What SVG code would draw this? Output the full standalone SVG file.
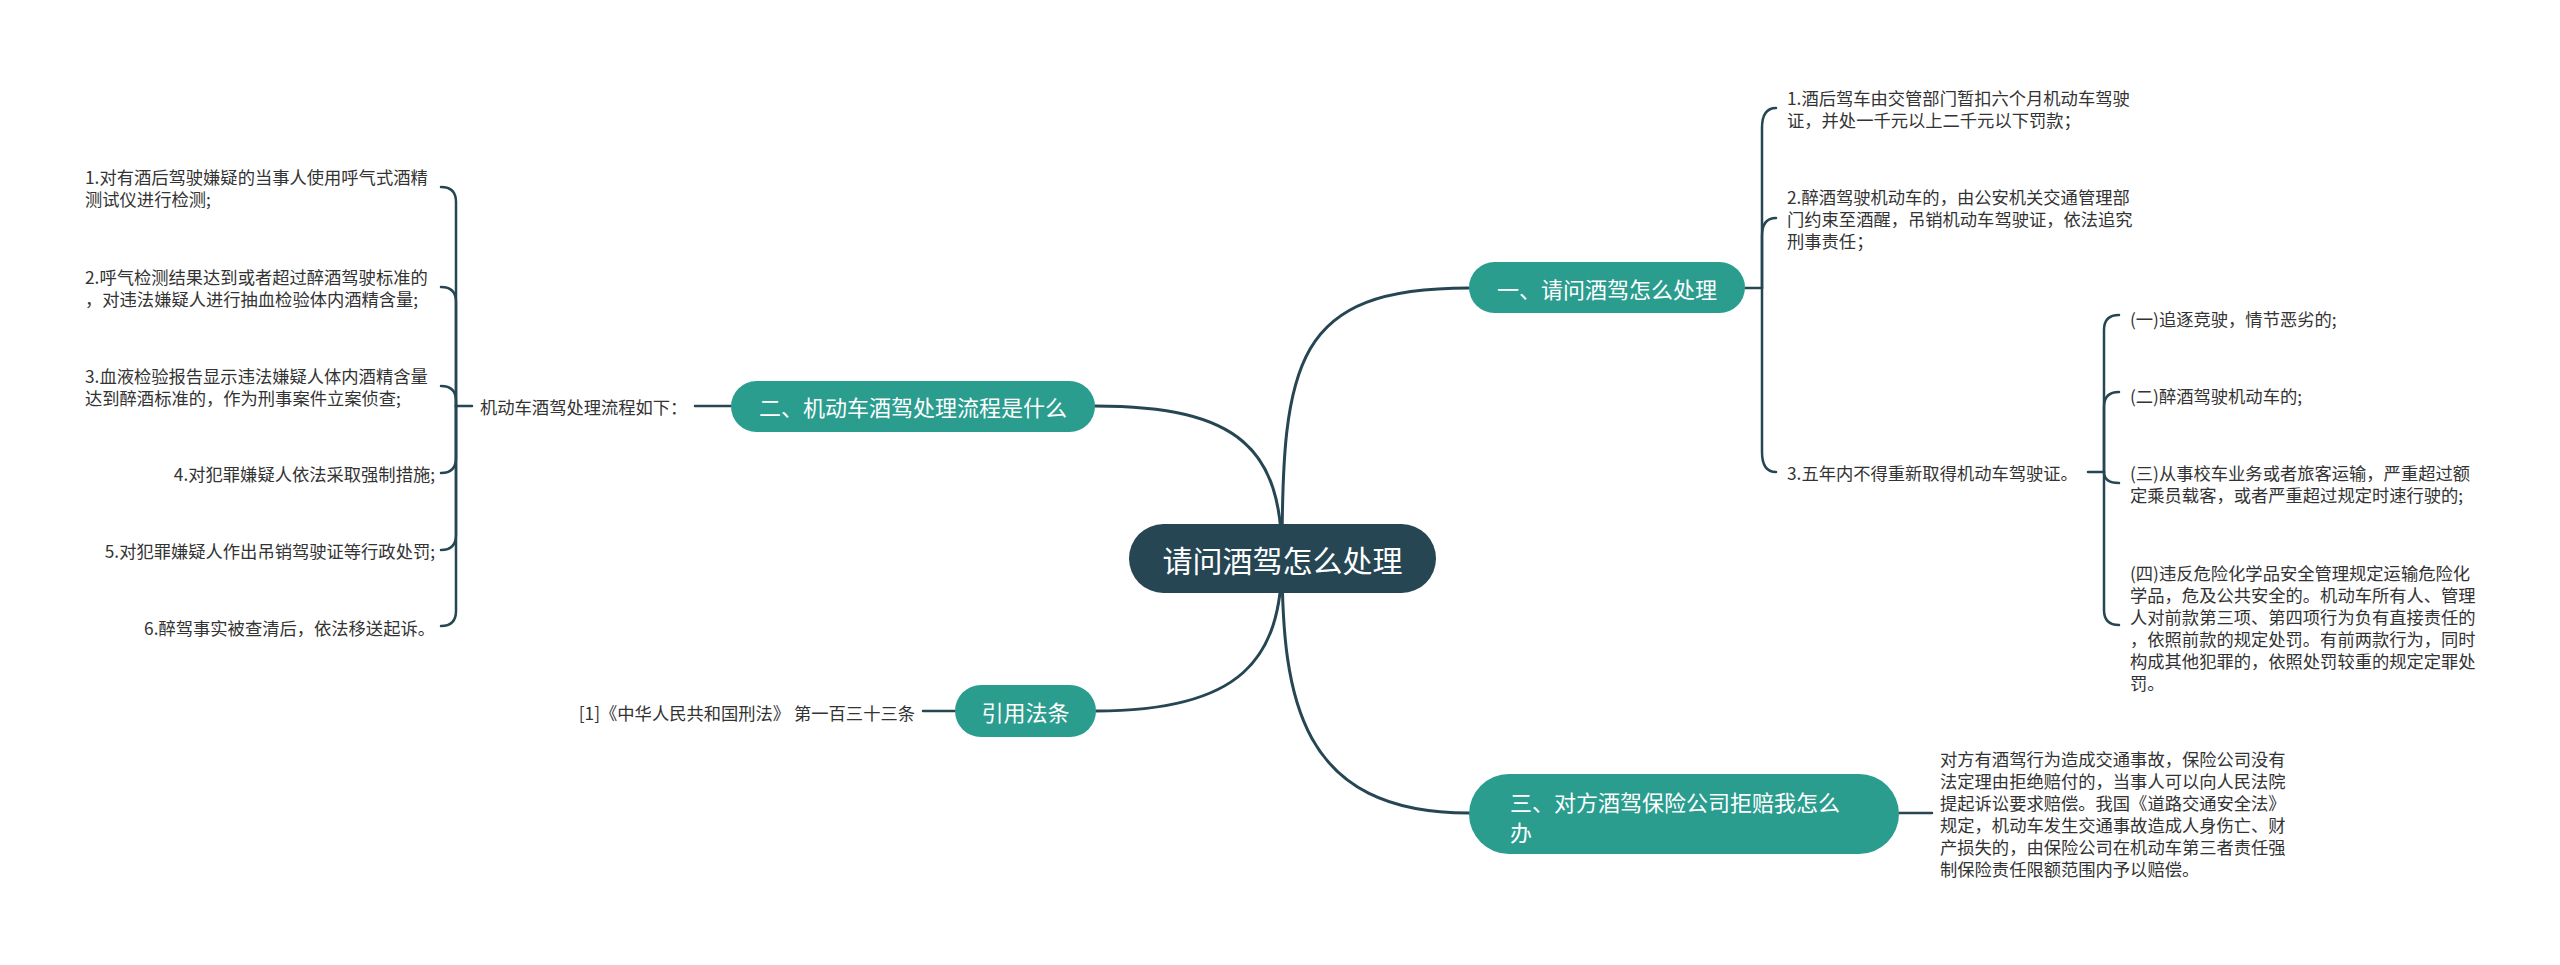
<svg xmlns="http://www.w3.org/2000/svg" width="2560" height="965" viewBox="0 0 2560 965">
<style>
.bg{fill:#ffffff}
.ln{fill:none;stroke:#264653;stroke-width:2.5;stroke-linecap:round;stroke-linejoin:round}
.main{fill:none;stroke:#264653;stroke-width:3;stroke-linecap:round}
.root{fill:#264653}
.br{fill:#2a9d8f}
.rt{font-family:"Noto Sans CJK SC","Noto Sans",sans-serif;font-size:30px;fill:#ffffff}
.bt{font-family:"Noto Sans CJK SC","Noto Sans",sans-serif;font-size:22px;fill:#ffffff}
.lf{font-family:"Noto Sans CJK SC","Noto Sans",sans-serif;font-size:17.3px;fill:#333333}
</style>
<rect class="bg" x="0" y="0" width="2560" height="965"/>
<g id="connectors">
<path class="main" d="M1282 558 C1282 360,1295 288,1469 288"/>
<path class="main" d="M1282 558 C1282 450,1240 406,1095 406"/>
<path class="main" d="M1282 558 C1282 660,1240 711,1096 711"/>
<path class="main" d="M1282 558 C1282 700,1300 813,1469 813"/>
<path class="ln" d="M731 406 H695"/>
<path class="ln" d="M472 406 H456"/>
<path class="ln" d="M456 406 V202 Q456 187 441 187"/>
<path class="ln" d="M456 406 V302 Q456 287 441 287"/>
<path class="ln" d="M456 406 V401 Q456 386 441 386"/>
<path class="ln" d="M456 406 V458 Q456 473 441 473"/>
<path class="ln" d="M456 406 V535 Q456 550 441 550"/>
<path class="ln" d="M456 406 V611 Q456 626 441 626"/>
<path class="ln" d="M955 711 H923"/>
<path class="ln" d="M1745 288 H1762"/>
<path class="ln" d="M1762 288 V128 Q1762 108 1776 108"/>
<path class="ln" d="M1762 288 V236 Q1762 218 1776 218"/>
<path class="ln" d="M1762 288 V452 Q1762 472 1776 472"/>
<path class="ln" d="M2088 472 H2104"/>
<path class="ln" d="M2104 472 V330 Q2104 315 2119 315"/>
<path class="ln" d="M2104 472 V407 Q2104 392 2119 392"/>
<path class="ln" d="M2104 472 Q2104 483 2119 483"/>
<path class="ln" d="M2104 472 V610 Q2104 625 2119 625"/>
<path class="ln" d="M1899 813 H1932"/>
</g>
<g id="root">
<rect class="root" x="1129" y="524" width="307" height="69" rx="34.5"/>
<text class="rt" x="1282.5" y="558.5" text-anchor="middle" dominant-baseline="central">请问酒驾怎么处理</text>
</g>
<g id="b1">
<rect class="br" x="1469" y="262" width="276" height="51" rx="25.5"/>
<text class="bt" x="1607" y="288" text-anchor="middle" dominant-baseline="central">一、请问酒驾怎么处理</text>
</g>
<g id="b2">
<rect class="br" x="731" y="381" width="364" height="51" rx="25.5"/>
<text class="bt" x="913" y="406" text-anchor="middle" dominant-baseline="central">二、机动车酒驾处理流程是什么</text>
</g>
<g id="b3">
<rect class="br" x="955" y="685" width="141" height="52" rx="26"/>
<text class="bt" x="1025.5" y="711" text-anchor="middle" dominant-baseline="central">引用法条</text>
</g>
<g id="b4">
<rect class="br" x="1469" y="774" width="430" height="80" rx="40"/>
<text class="bt" x="1510" y="801" dominant-baseline="central">三、对方酒驾保险公司拒赔我怎么</text>
<text class="bt" x="1510" y="831" dominant-baseline="central">办</text>
</g>
<g id="flow">
<text class="lf" x="480" y="406" dominant-baseline="central">机动车酒驾处理流程如下：</text>
</g>
<g id="l1">
<text class="lf" x="85" y="176" dominant-baseline="central">1.对有酒后驾驶嫌疑的当事人使用呼气式酒精</text>
<text class="lf" x="85" y="198" dominant-baseline="central">测试仪进行检测;</text>
</g>
<g id="l2">
<text class="lf" x="85" y="276" dominant-baseline="central">2.呼气检测结果达到或者超过醉酒驾驶标准的</text>
<text class="lf" x="85" y="298" dominant-baseline="central">，对违法嫌疑人进行抽血检验体内酒精含量;</text>
</g>
<g id="l3">
<text class="lf" x="85" y="375" dominant-baseline="central">3.血液检验报告显示违法嫌疑人体内酒精含量</text>
<text class="lf" x="85" y="397" dominant-baseline="central">达到醉酒标准的，作为刑事案件立案侦查;</text>
</g>
<g id="l4">
<text class="lf" x="435" y="473" text-anchor="end" dominant-baseline="central">4.对犯罪嫌疑人依法采取强制措施;</text>
</g>
<g id="l5">
<text class="lf" x="435" y="550" text-anchor="end" dominant-baseline="central">5.对犯罪嫌疑人作出吊销驾驶证等行政处罚;</text>
</g>
<g id="l6">
<text class="lf" x="435" y="627" text-anchor="end" dominant-baseline="central">6.醉驾事实被查清后，依法移送起诉。</text>
</g>
<g id="cite">
<text class="lf" x="915" y="712" text-anchor="end" dominant-baseline="central">[1]《中华人民共和国刑法》 第一百三十三条</text>
</g>
<g id="r1">
<text class="lf" x="1787" y="97" dominant-baseline="central">1.酒后驾车由交管部门暂扣六个月机动车驾驶</text>
<text class="lf" x="1787" y="119" dominant-baseline="central">证，并处一千元以上二千元以下罚款；</text>
</g>
<g id="r2">
<text class="lf" x="1787" y="196" dominant-baseline="central">2.醉酒驾驶机动车的，由公安机关交通管理部</text>
<text class="lf" x="1787" y="218" dominant-baseline="central">门约束至酒醒，吊销机动车驾驶证，依法追究</text>
<text class="lf" x="1787" y="240" dominant-baseline="central">刑事责任；</text>
</g>
<g id="r3">
<text class="lf" x="1787" y="472" dominant-baseline="central">3.五年内不得重新取得机动车驾驶证。</text>
</g>
<g id="s1">
<text class="lf" x="2130" y="318" dominant-baseline="central">(一)追逐竞驶，情节恶劣的;</text>
</g>
<g id="s2">
<text class="lf" x="2130" y="395" dominant-baseline="central">(二)醉酒驾驶机动车的;</text>
</g>
<g id="s3">
<text class="lf" x="2130" y="472" dominant-baseline="central">(三)从事校车业务或者旅客运输，严重超过额</text>
<text class="lf" x="2130" y="494" dominant-baseline="central">定乘员载客，或者严重超过规定时速行驶的;</text>
</g>
<g id="s4">
<text class="lf" x="2130" y="572" dominant-baseline="central">(四)违反危险化学品安全管理规定运输危险化</text>
<text class="lf" x="2130" y="594" dominant-baseline="central">学品，危及公共安全的。机动车所有人、管理</text>
<text class="lf" x="2130" y="616" dominant-baseline="central">人对前款第三项、第四项行为负有直接责任的</text>
<text class="lf" x="2130" y="638" dominant-baseline="central">，依照前款的规定处罚。有前两款行为，同时</text>
<text class="lf" x="2130" y="660" dominant-baseline="central">构成其他犯罪的，依照处罚较重的规定定罪处</text>
<text class="lf" x="2130" y="682" dominant-baseline="central">罚。</text>
</g>
<g id="ins">
<text class="lf" x="1940" y="758" dominant-baseline="central">对方有酒驾行为造成交通事故，保险公司没有</text>
<text class="lf" x="1940" y="780" dominant-baseline="central">法定理由拒绝赔付的，当事人可以向人民法院</text>
<text class="lf" x="1940" y="802" dominant-baseline="central">提起诉讼要求赔偿。我国《道路交通安全法》</text>
<text class="lf" x="1940" y="824" dominant-baseline="central">规定，机动车发生交通事故造成人身伤亡、财</text>
<text class="lf" x="1940" y="846" dominant-baseline="central">产损失的，由保险公司在机动车第三者责任强</text>
<text class="lf" x="1940" y="868" dominant-baseline="central">制保险责任限额范围内予以赔偿。</text>
</g>
</svg>
